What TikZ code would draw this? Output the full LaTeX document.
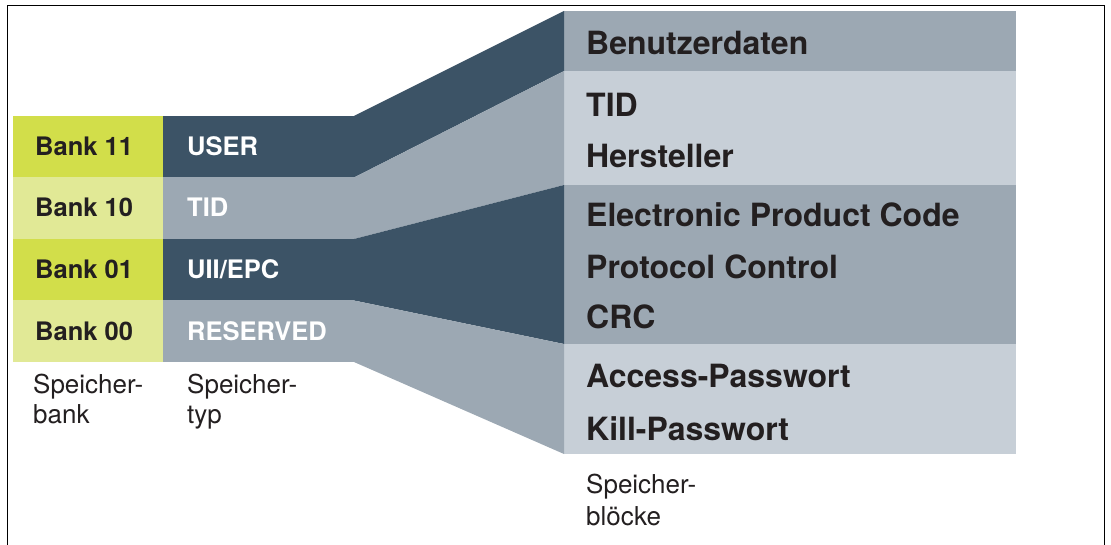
\documentclass[tikz,border=0pt]{standalone}
\usepackage{fontspec}
\setmainfont{TeX Gyre Heros}
\definecolor{slate}{HTML}{3C5366}
\definecolor{midgray}{HTML}{9CA8B3}
\definecolor{lightgray}{HTML}{C7CFD7}
\definecolor{greendark}{HTML}{D2DE4A}
\definecolor{greenlight}{HTML}{E1E996}
\definecolor{ink}{HTML}{231F20}
\newcommand\bankfnt{\fontsize{25.5}{30}\selectfont\bfseries}
\newcommand\blockfnt{\fontsize{32}{38}\selectfont\bfseries}
\newcommand\capfnt{\fontsize{26}{31}\selectfont}
\begin{document}
\begin{tikzpicture}[x=1pt,y=-1pt,
  cell/.style={draw=none,inner sep=0pt,outer sep=0pt,minimum height=#1},
  bankcell/.style={cell=61.5pt,minimum width=150pt},
  typecell/.style={cell=61.5pt,minimum width=191pt},
  blockcell/.style={cell=#1,minimum width=452pt},
  banktxt/.style={anchor=base west,inner sep=0pt,font=\bankfnt,text=ink},
  typetxt/.style={anchor=base west,inner sep=0pt,font=\bankfnt,text=white},
  blocktxt/.style={anchor=base west,inner sep=0pt,font=\blockfnt,text=ink},
  captxt/.style={anchor=base west,inner sep=0pt,font=\capfnt,text=ink}]
\useasboundingbox (0,0) rectangle (1111,545);
% frame
\draw[line width=1.3pt] (7.3,545) |- (1104.3,5.3) -- (1104.3,545);
% bank column
\node[bankcell,fill=greendark]  (b11) at (88,146.75) {};
\node[bankcell,fill=greenlight] (b10) at (88,208.25) {};
\node[bankcell,fill=greendark]  (b01) at (88,269.75) {};
\node[bankcell,fill=greenlight] (b00) at (88,331.25) {};
% type column
\node[typecell,fill=slate]   (tu) at (258.5,146.75) {};
\node[typecell,fill=midgray] (tt) at (258.5,208.25) {};
\node[typecell,fill=slate]   (te) at (258.5,269.75) {};
\node[typecell,fill=midgray] (tr) at (258.5,331.25) {};
% blocks
\node[blockcell=60pt,fill=midgray]    (k1) at (790,41) {};
\node[blockcell=114pt,fill=lightgray] (k2) at (790,128) {};
\node[blockcell=159pt,fill=midgray]   (k3) at (790,264.5) {};
\node[blockcell=110pt,fill=lightgray] (k4) at (790,399) {};
% connectors
\fill[slate]   (tu.north east) -- (k1.north west) -- (k1.south west) -- (tu.south east) -- cycle;
\fill[midgray] (tt.north east) -- (k2.north west) -- (k2.south west) -- (tt.south east) -- cycle;
\fill[slate]   (te.north east) -- (k3.north west) -- (k3.south west) -- (te.south east) -- cycle;
\fill[midgray] (tr.north east) -- (k4.north west) -- (k4.south west) -- (tr.south east) -- cycle;
% bank labels
\node[banktxt] (l11) at (35,155.7) {Bank 11};
\node[banktxt] (l10) at (35,216.8) {Bank 10};
\node[banktxt] (l01) at (35,279) {Bank 01};
\node[banktxt] (l00) at (35,340.7) {Bank 00};
% type labels
\node[typetxt] (lu) at (187,155.7) {USER};
\node[typetxt] (lt) at (187,216.8) {TID};
\node[typetxt] (le) at (187,279) {UII/EPC};
\node[typetxt] (lr) at (187,340.7) {RESERVED};
% block labels
\node[blocktxt] (x1) at (586,55) {Benutzerdaten};
\node[blocktxt] (x2) at (586,116.7) {TID};
\node[blocktxt] (x3) at (586,168) {Hersteller};
\node[blocktxt] (x4) at (586,227) {Electronic Product Code};
\node[blocktxt] (x5) at (586,279) {Protocol Control};
\node[blocktxt] (x6) at (586,329) {CRC};
\node[blocktxt] (x7) at (586,387.5) {Access-Passwort};
\node[blocktxt] (x8) at (586,440) {Kill-Passwort};
% captions
\node[captxt] (c1a) at (33,393) {Speicher-};
\node[captxt] (c1b) at (33,423) {bank};
\node[captxt] (c2a) at (187,393) {Speicher-};
\node[captxt] (c2b) at (187,423) {typ};
\node[captxt] (c3a) at (586,493.5) {Speicher-};
\node[captxt] (c3b) at (586,525) {blöcke};
\end{tikzpicture}
\end{document}
